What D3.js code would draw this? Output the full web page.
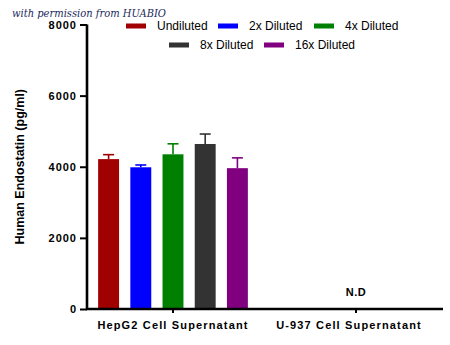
<!DOCTYPE html>
<html>
<head>
<meta charset="utf-8">
<script src="https://cdn.jsdelivr.net/npm/d3@7"></script>
<style>
  html, body { margin: 0; padding: 0; background: #fff; }
  svg { display: block; }
</style>
</head>
<body>
<svg id="chart" width="450" height="345"></svg>
<script>
// ---- data ----
const groups = ["HepG2 Cell Supernatant", "U-937 Cell Supernatant"];
const series = ["Undiluted", "2x Diluted", "4x Diluted", "8x Diluted", "16x Diluted"];
const colors = ["#a00000", "#0000ff", "#008000", "#333333", "#800080"];
const hepg2Means = [4215, 3985, 4350, 4640, 3960];
const hepg2SD = [125, 65, 295, 280, 290];
const u937Label = "N.D";
const yTicks = [0, 2000, 4000, 6000, 8000];

const svg = d3.select("#chart");
const W = 450, H = 345;

const y = d3.scaleLinear().domain([0, 8000]).range([309, 24.5]);
const x = d3.scaleBand().domain(groups).range([81.5, 447.5]);
const inner = d3.scaleBand().domain(series).range([-80.5, 80.5])
  .paddingInner(0.35).paddingOuter(0.175);

// watermark
svg.append("text")
  .attr("x", 12).attr("y", 17)
  .attr("textLength", 154).attr("lengthAdjust", "spacingAndGlyphs")
  .style("font-family", "'DejaVu Serif', 'Liberation Serif', serif")
  .style("font-style", "italic")
  .style("font-size", "11px")
  .style("fill", "#1b2a5c")
  .text("with permission from HUABIO");

// bars
const g0 = x(groups[0]) + x.bandwidth() / 2;
const barsG = svg.append("g");
series.forEach((s, i) => {
  const cx = g0 + inner(s) + inner.bandwidth() / 2;
  barsG.append("rect")
    .attr("x", g0 + inner(s))
    .attr("width", inner.bandwidth())
    .attr("y", y(hepg2Means[i]))
    .attr("height", y(0) - y(hepg2Means[i]))
    .attr("fill", colors[i]);
  const top = y(hepg2Means[i] + hepg2SD[i]);
  barsG.append("line")
    .attr("x1", cx).attr("x2", cx)
    .attr("y1", y(hepg2Means[i])).attr("y2", top)
    .attr("stroke", colors[i]).attr("stroke-width", 1.6);
  barsG.append("line")
    .attr("x1", cx - 5.5).attr("x2", cx + 5.5)
    .attr("y1", top).attr("y2", top)
    .attr("stroke", colors[i]).attr("stroke-width", 1.6);
});

// N.D label
const g1 = x(groups[1]) + x.bandwidth() / 2;
svg.append("text")
  .attr("x", g1).attr("y", 296)
  .attr("text-anchor", "middle")
  .style("font-family", "'Liberation Sans', Arial, sans-serif")
  .style("font-weight", "bold")
  .style("font-size", "11px")
  .style("letter-spacing", "0.5px")
  .text(u937Label);

// y axis
const yAxis = d3.axisLeft(y).tickValues(yTicks).tickSize(7).tickPadding(3)
  .tickFormat(d3.format("d"));
const yg = svg.append("g").attr("transform", "translate(87,0)").call(yAxis);
yg.select(".domain").attr("d", `M0,${y(8000)}V${y(0)}`)
  .attr("stroke", "#000").attr("stroke-width", 2.6);
yg.selectAll(".tick line").attr("stroke", "#000").attr("stroke-width", 2);
yg.selectAll(".tick text")
  .style("font-family", "'Liberation Sans', Arial, sans-serif")
  .style("font-weight", "bold")
  .style("font-size", "11px")
  .style("letter-spacing", "1px")
  .attr("dy", "0.35em")
  .attr("fill", "#000");

// x axis
const xAxis = d3.axisBottom(x).tickSize(4).tickPadding(8);
const xg = svg.append("g").attr("transform", `translate(0,${y(0)})`).call(xAxis);
xg.select(".domain").attr("d", `M86,0H443`)
  .attr("stroke", "#000").attr("stroke-width", 2.6);
xg.selectAll(".tick line").attr("stroke", "#000").attr("stroke-width", 2);
xg.selectAll(".tick text")
  .style("font-family", "'Liberation Sans', Arial, sans-serif")
  .style("font-weight", "bold")
  .style("font-size", "11px")
  .style("letter-spacing", "1.15px")
  .attr("fill", "#000")
  .attr("dx", (d, i) => i === 1 ? -7 : 0);

// y title
svg.append("text")
  .attr("transform", `translate(24,${(y(0) + y(8000)) / 2 + 0}) rotate(-90)`)
  .attr("text-anchor", "middle")
  .style("font-family", "'Liberation Sans', Arial, sans-serif")
  .style("font-weight", "bold")
  .style("font-size", "12.5px")
  .text("Human Endostatin (pg/ml)");

// legend
const legendPos = [
  {sx: 126, y: 26}, {sx: 218, y: 26}, {sx: 314, y: 26},
  {sx: 169, y: 45}, {sx: 264, y: 45}
];
const lg = svg.append("g");
series.forEach((s, i) => {
  const p = legendPos[i];
  lg.append("rect").attr("x", p.sx).attr("y", p.y - 2.5)
    .attr("width", 20).attr("height", 5).attr("fill", colors[i]);
  lg.append("text").attr("x", p.sx + 31).attr("y", p.y).attr("dy", "0.36em")
    .style("font-family", "'Liberation Sans', Arial, sans-serif")
    .style("font-size", "12px")
    .text(s);
});
</script>
</body>
</html>
